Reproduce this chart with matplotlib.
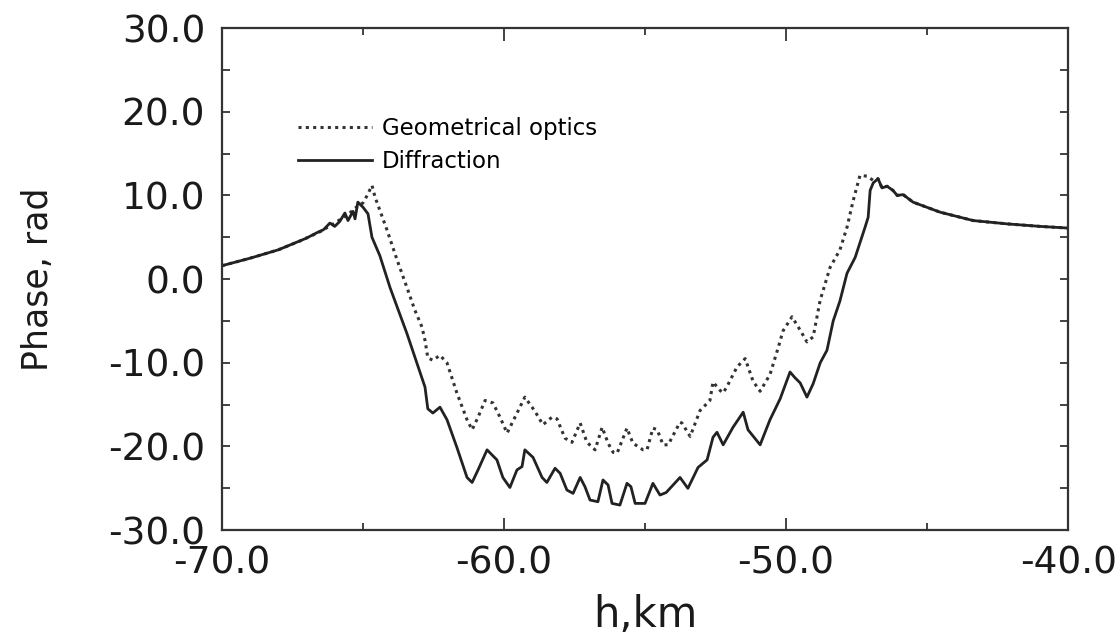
import matplotlib
matplotlib.use('Agg')
import matplotlib.pyplot as plt
from matplotlib.ticker import MultipleLocator, FormatStrFormatter

# Diffraction (solid line)
diff_h = [-70.00, -69.00, -68.00, -67.50, -67.00, -66.60, -66.40, -66.17, -66.00, -65.82,
          -65.64, -65.53, -65.35, -65.28, -65.18, -65.00, -64.82, -64.68, -64.40, -64.04,
          -63.79, -63.44, -63.09, -62.80, -62.70, -62.52, -62.27, -62.02, -61.67, -61.31,
          -61.13, -60.92, -60.60, -60.25, -60.04, -59.79, -59.54, -59.36, -59.26, -58.97,
          -58.65, -58.48, -58.19, -58.01, -57.77, -57.55, -57.30, -57.13, -56.95, -56.67,
          -56.49, -56.31, -56.17, -55.89, -55.64, -55.50, -55.35, -55.00, -54.72, -54.47,
          -54.25, -53.76, -53.48, -53.12, -52.80, -52.59, -52.45, -52.23, -51.88, -51.52,
          -51.35, -50.92, -50.57, -50.21, -49.86, -49.68, -49.50, -49.26, -49.04, -48.79,
          -48.55, -48.33, -48.09, -47.84, -47.55, -47.20, -47.09, -47.02, -46.91, -46.74,
          -46.60, -46.42, -46.21, -46.06, -45.85, -45.50, -44.54, -43.37, -42.16, -40.99,
          -40.00]
diff_phase = [1.6, 2.5, 3.5, 4.2, 4.9, 5.6, 5.9, 6.7, 6.3, 6.9,
              7.9, 7.0, 8.1, 7.2, 9.2, 8.6, 7.8, 5.0, 2.8, -1.0,
              -3.3, -6.5, -10.0, -12.9, -15.5, -16.0, -15.3, -16.8, -20.1, -23.7,
              -24.3, -22.8, -20.4, -21.6, -23.7, -24.9, -22.8, -22.4, -20.4, -21.3,
              -23.7, -24.3, -22.6, -23.2, -25.2, -25.6, -23.7, -24.8, -26.4, -26.6,
              -24.0, -24.6, -26.8, -27.0, -24.4, -24.8, -26.8, -26.8, -24.4, -25.8,
              -25.5, -23.7, -25.0, -22.5, -21.6, -18.9, -18.3, -19.8, -17.7, -15.9,
              -18.0, -19.8, -16.8, -14.3, -11.1, -11.8, -12.4, -14.1, -12.5, -10.0,
              -8.5, -5.0, -2.6, 0.7, 2.6, 6.2, 7.4, 10.6, 11.5, 12.0,
              10.9, 11.1, 10.6, 10.0, 10.1, 9.2, 8.0, 7.0, 6.6, 6.3,
              6.1]

# Geometrical optics (dotted line)
geo_h = [-70.00, -69.00, -68.00, -67.20, -66.50, -66.00, -65.50, -65.20, -65.00, -64.85,
         -64.68, -64.57, -64.15, -63.79, -63.44, -63.16, -62.91, -62.80, -62.70, -62.52,
         -62.27, -62.02, -61.67, -61.31, -61.13, -60.92, -60.67, -60.39, -60.14, -59.89,
         -59.61, -59.26, -58.90, -58.62, -58.30, -58.12, -57.84, -57.59, -57.30, -57.06,
         -56.77, -56.52, -56.31, -56.13, -55.99, -55.64, -55.43, -55.07, -54.93, -54.72,
         -54.57, -54.36, -54.18, -53.76, -53.69, -53.40, -53.05, -52.70, -52.59, -52.34,
         -52.23, -52.09, -51.74, -51.45, -51.17, -50.92, -50.57, -50.28, -50.11, -49.79,
         -49.50, -49.26, -49.04, -48.79, -48.44, -48.09, -47.84, -47.62, -47.38, -47.13,
         -46.91, -46.74, -46.60, -46.42, -46.21, -46.06, -45.85, -45.50, -44.54, -43.37,
         -42.16, -40.99, -40.00]
geo_phase = [1.6, 2.5, 3.5, 4.6, 5.7, 6.7, 7.8, 8.7, 9.1, 10.0,
             11.2, 9.8, 5.9, 2.3, -1.0, -3.7, -5.7, -7.3, -9.4, -9.7,
             -9.1, -10.0, -13.6, -16.8, -18.0, -16.5, -14.5, -14.8, -16.5, -18.4,
             -16.5, -14.1, -15.8, -17.4, -16.5, -16.7, -19.0, -19.5, -17.2, -19.5,
             -20.4, -17.7, -19.6, -20.7, -20.8, -17.8, -19.6, -20.4, -20.4, -17.8,
             -18.0, -19.8, -19.8, -17.1, -17.2, -18.8, -15.7, -14.5, -12.3, -13.3,
             -13.6, -12.8, -10.5, -9.5, -12.2, -13.4, -11.4, -8.2, -6.2, -4.5,
             -6.1, -7.5, -6.9, -2.5, 1.4, 3.5, 6.2, 9.4, 12.4, 12.3,
             11.8, 12.0, 10.9, 11.1, 10.6, 10.0, 10.1, 9.2, 8.0, 7.0,
             6.6, 6.3, 6.1]

plt.rcParams['font.family'] = ['DejaVu Sans']

fig = plt.figure(figsize=(11.15, 6.38), dpi=100)
ax = fig.add_axes([0.199, 0.169, 0.759, 0.787])

ax.plot(geo_h, geo_phase, color='#333333', linestyle=(0, (1, 1.4)), linewidth=2.2,
        label='Geometrical optics')
ax.plot(diff_h, diff_phase, color='#222222', linestyle='-', linewidth=2.0,
        label='Diffraction')

ax.set_xlim(-70, -40)
ax.set_ylim(-30, 30)
ax.xaxis.set_major_locator(MultipleLocator(10))
ax.xaxis.set_minor_locator(MultipleLocator(5))
ax.yaxis.set_major_locator(MultipleLocator(10))
ax.yaxis.set_minor_locator(MultipleLocator(5))
ax.xaxis.set_major_formatter(FormatStrFormatter('%.1f'))
ax.yaxis.set_major_formatter(FormatStrFormatter('%.1f'))

ax.tick_params(which='both', direction='in', top=True, right=True, width=1.2,
               colors='#222222', labelcolor='#1a1a1a')
ax.tick_params(axis='x', which='major', length=9, labelsize=27, pad=11)
ax.tick_params(axis='x', which='minor', length=5)
ax.tick_params(axis='y', which='both', length=5.5, labelsize=27, pad=12)
for sp in ax.spines.values():
    sp.set_linewidth(1.6)
    sp.set_color('#333333')

ax.set_xlabel('h,km', fontsize=30, color='#1a1a1a', labelpad=9)
ax.set_ylabel('Phase, rad', fontsize=25, color='#1a1a1a', labelpad=38)

ax.legend(loc='upper left', bbox_to_anchor=(0.066, 0.864), frameon=False,
          fontsize=16.5, handlelength=3.2, handletextpad=0.45, labelspacing=0.45)

fig.savefig('out.png', dpi=100)
